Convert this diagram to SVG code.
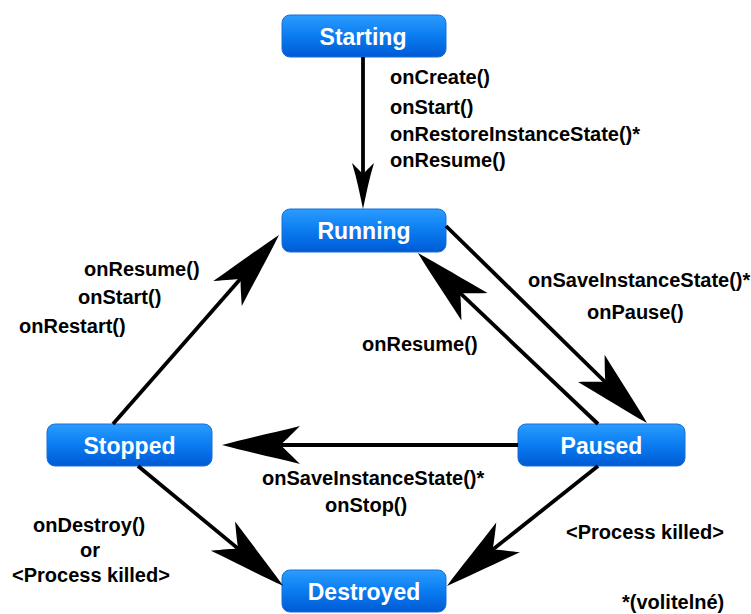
<svg xmlns="http://www.w3.org/2000/svg" width="751" height="614" viewBox="0 0 751 614">
  <style>
    .box { fill: url(#boxFill); stroke: #1a6fd6; stroke-width: 1; }
    .name { font-family: "Liberation Sans", Arial, sans-serif; font-weight: bold; font-size: 23px; fill: #ffffff; text-anchor: middle; }
    .lbl { font-family: "Liberation Sans", Arial, sans-serif; font-weight: bold; font-size: 20px; fill: #000000; }
    .edge { fill: none; stroke: #000000; stroke-width: 3.8; }
  </style>
  <defs>
    <linearGradient id="boxFill" x1="0" y1="0" x2="0" y2="1">
      <stop offset="0" stop-color="#2b9cff"/>
      <stop offset="0.5" stop-color="#0a7cf0"/>
      <stop offset="1" stop-color="#005ad4"/>
    </linearGradient>
    <!-- swept arrowheads; tip sits ahead of the line end -->
    <marker id="headS" markerUnits="userSpaceOnUse" viewBox="-50 -14 54 28" markerWidth="54" markerHeight="28" refX="-20" refY="0" orient="auto" overflow="visible">
      <path d="M0,0 C-14,-3 -30,-6 -46,-11 C-40,-5 -37,-2 -35,0 C-37,2 -40,5 -46,11 C-30,6 -14,3 0,0 Z" fill="#000"/>
    </marker>
    <marker id="headL" markerUnits="userSpaceOnUse" viewBox="-82 -22 86 44" markerWidth="86" markerHeight="44" refX="-30" refY="0" orient="auto" overflow="visible">
      <path d="M0,0 C-22,-6 -50,-12 -78,-19 C-68,-9 -62,-3 -58,0 C-62,3 -68,9 -78,19 C-50,12 -22,6 0,0 Z" fill="#000"/>
    </marker>
  </defs>

  <rect width="751" height="614" fill="#ffffff"/>

  <g id="node-starting">
    <rect class="box" x="282" y="15" width="164" height="42" rx="8"/>
    <text class="name" x="363" y="45">Starting</text>
  </g>
  <g id="node-running">
    <rect class="box" x="282" y="209" width="164" height="43" rx="8"/>
    <text class="name" x="364" y="239">Running</text>
  </g>
  <g id="node-stopped">
    <rect class="box" x="47" y="424" width="165" height="42" rx="8"/>
    <text class="name" x="129.5" y="454">Stopped</text>
  </g>
  <g id="node-paused">
    <rect class="box" x="518" y="424" width="167" height="42" rx="8"/>
    <text class="name" x="601.5" y="454">Paused</text>
  </g>
  <g id="node-destroyed">
    <rect class="box" x="282" y="570" width="164" height="42" rx="8"/>
    <text class="name" x="364" y="600">Destroyed</text>
  </g>

  <g id="connectors">
    <line class="edge" x1="363" y1="57" x2="363" y2="189" marker-end="url(#headS)"/>
    <line class="edge" x1="446" y1="226" x2="625.6" y2="402" marker-end="url(#headL)"/>
    <line class="edge" x1="598" y1="424" x2="439.7" y2="273.7" marker-end="url(#headL)"/>
    <line class="edge" x1="518" y1="445" x2="252" y2="445" marker-end="url(#headL)"/>
    <line class="edge" x1="113" y1="424" x2="259.2" y2="257.5" marker-end="url(#headL)"/>
    <line class="edge" x1="138" y1="466" x2="260" y2="566.7" marker-end="url(#headL)"/>
    <line class="edge" x1="598" y1="466" x2="470.5" y2="567.3" marker-end="url(#headL)"/>
  </g>

  <g id="labels">
    <text class="lbl" x="390" y="84">onCreate()</text>
    <text class="lbl" x="390" y="114">onStart()</text>
    <text class="lbl" x="390" y="141">onRestoreInstanceState()*</text>
    <text class="lbl" x="390" y="167">onResume()</text>

    <text class="lbl" x="84" y="276">onResume()</text>
    <text class="lbl" x="78" y="304">onStart()</text>
    <text class="lbl" x="19" y="333">onRestart()</text>

    <text class="lbl" x="528" y="287">onSaveInstanceState()*</text>
    <text class="lbl" x="587" y="319">onPause()</text>

    <text class="lbl" x="362" y="351">onResume()</text>

    <text class="lbl" x="262" y="485">onSaveInstanceState()*</text>
    <text class="lbl" x="325" y="512">onStop()</text>

    <text class="lbl" x="33" y="532">onDestroy()</text>
    <text class="lbl" x="80" y="557">or</text>
    <text class="lbl" x="12" y="582">&lt;Process killed&gt;</text>

    <text class="lbl" x="566" y="539">&lt;Process killed&gt;</text>

    <text class="lbl" x="622" y="609">*(volitelné)</text>
  </g>
</svg>
